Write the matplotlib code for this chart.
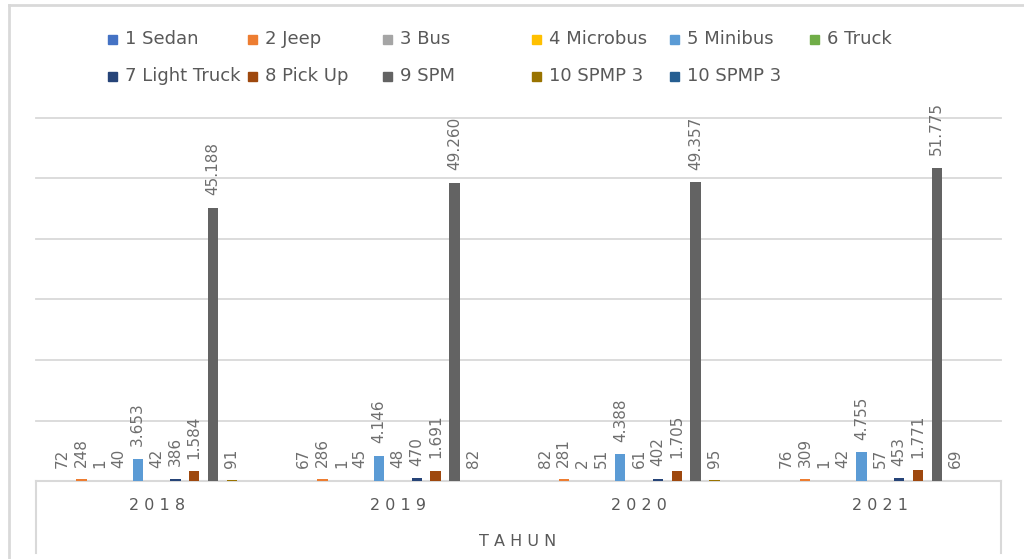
import matplotlib
matplotlib.use("Agg")
import matplotlib.pyplot as plt
from matplotlib.patches import Rectangle
from matplotlib.lines import Line2D
import numpy as np

years = ["2018", "2019", "2020", "2021"]
series_names = ["1 Sedan", "2 Jeep", "3 Bus", "4 Microbus", "5 Minibus", "6 Truck",
                "7 Light Truck", "8 Pick Up", "9 SPM", "10 SPMP 3", "10 SPMP 3"]
sedan = [72, 67, 82, 76]
jeep = [248, 286, 281, 309]
bus = [1, 1, 2, 1]
microbus = [40, 45, 51, 42]
minibus = [3653, 4146, 4388, 4755]
truck = [42, 48, 61, 57]
light_truck = [386, 470, 402, 453]
pick_up = [1584, 1691, 1705, 1771]
spm = [45188, 49260, 49357, 51775]
spmp3 = [91, 82, 95, 69]
spmp3_b = [None, None, None, None]
all_series = [sedan, jeep, bus, microbus, minibus, truck, light_truck, pick_up, spm, spmp3, spmp3_b]
colors = ["#4472C4", "#ED7D31", "#A5A5A5", "#FFC000", "#5B9BD5", "#70AD47",
          "#264478", "#9E480E", "#636363", "#997300", "#255E91"]

W, H = 1024, 559
fig = plt.figure(figsize=(W / 100, H / 100), dpi=100)
ax = fig.add_axes([36 / W, 1 - 481 / H, (1001 - 36) / W, (481 - 118) / H])

x = np.arange(len(years))
step = 0.078
bw = 0.043
label_color = "#6e6e6e"
for i, (vals, c) in enumerate(zip(all_series, colors)):
    pos = x + (i - 5) * step
    for xp, v in zip(pos, vals):
        if v is None:
            continue
        ax.bar(xp, v, width=bw, color=c, zorder=3)
        ax.annotate(f"{v:,}".replace(",", "."), (xp, v), xytext=(0, 9),
                    textcoords="offset points", rotation=90, ha="center", va="bottom",
                    fontsize=11, color=label_color, zorder=4)

ax.set_xlim(-0.5, 3.5)
ax.set_ylim(0, 60000)
ax.set_yticks(np.arange(0, 60001, 10000))
ax.yaxis.grid(True, color="#d9d9d9", linewidth=1.3, zorder=0)
for gl in ax.get_ygridlines():
    gl.set_clip_on(False)
ax.tick_params(axis="y", left=False, labelleft=False)
ax.tick_params(axis="x", bottom=False, labelbottom=False)
for s in ["top", "right", "left"]:
    ax.spines[s].set_visible(False)
ax.spines["bottom"].set_color("#d9d9d9")
ax.spines["bottom"].set_linewidth(1.5)
ax.set_xticks([])

# category labels (letter-spaced)
for xi, yr in zip(x, years):
    ax.annotate(" ".join(yr), (xi, 0), xytext=(0, -18), textcoords="offset points",
                ha="center", va="center", fontsize=11.5, color="#595959",
                annotation_clip=False)
fig.text(518 / W, 1 - 541 / H, " ".join("TAHUN"), ha="center", va="center",
         fontsize=11.5, color="#595959")

# category box side lines
for xf in [36 / W, 1001 / W]:
    fig.add_artist(Line2D([xf, xf], [1 - 481 / H, 1 - 553 / H], color="#d9d9d9", lw=1.5))

# outer border (top and left visible)
fig.add_artist(Line2D([9 / W, 9 / W], [0, 1 - 5 / H], color="#d9d9d9", lw=2))
fig.add_artist(Line2D([9 / W, 1], [1 - 5 / H, 1 - 5 / H], color="#d9d9d9", lw=2))

# legend, Excel-like placement
leg_x = [108, 248, 383, 532, 670, 810]
leg_y = [39, 76]
for i, (name, c) in enumerate(zip(series_names, colors)):
    r, col = divmod(i, 6)
    lx, ly = leg_x[col], leg_y[r]
    fig.add_artist(Rectangle((lx / W, 1 - (ly + 4.5) / H), 9 / W, 9 / H,
                             color=c, transform=fig.transFigure))
    fig.text((lx + 17) / W, 1 - ly / H, name, ha="left", va="center",
             fontsize=13, color="#595959")

fig.savefig("out.png", dpi=100)
